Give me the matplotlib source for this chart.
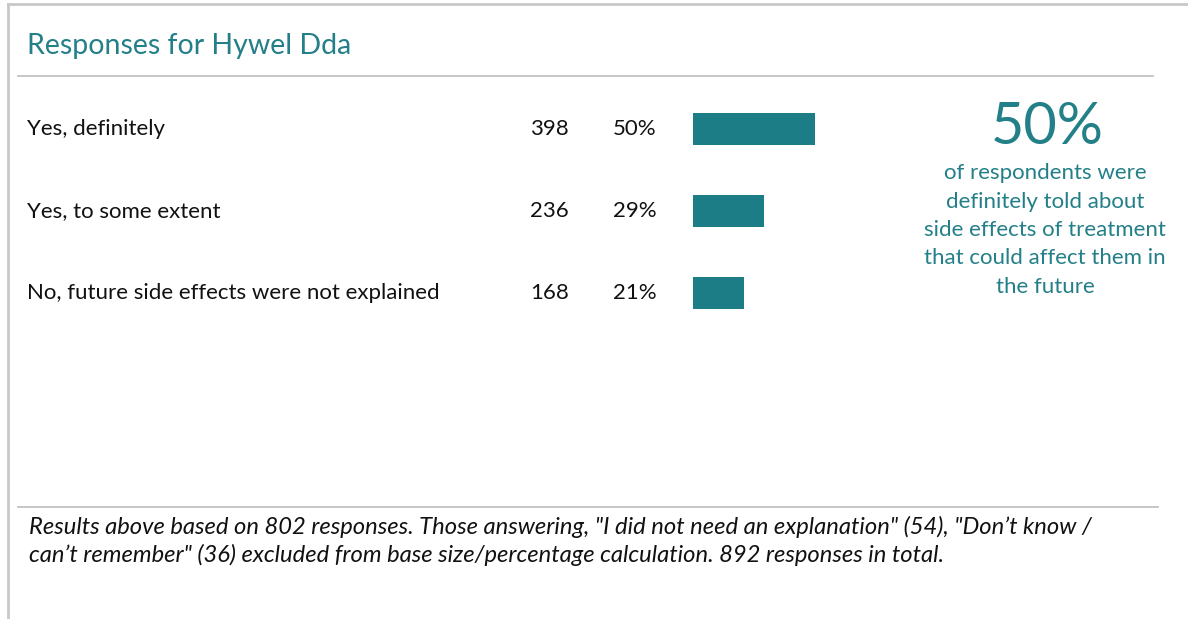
import matplotlib
matplotlib.use("Agg")
import matplotlib.pyplot as plt

plt.rcParams['font.family'] = ['Lato', 'DejaVu Sans']

# data
categories = ["Yes, definitely", "Yes, to some extent", "No, future side effects were not explained"]
counts = [398, 236, 168]
percents = [50, 29, 21]
title = "Responses for Hywel Dda"
headline = "50%"
headline_text = ("of respondents were\ndefinitely told about\nside effects of treatment\n"
                 "that could affect them in\nthe future")
footnote = ("Results above based on 802 responses. Those answering, \"I did not need an explanation\" (54), \"Don\u2019t know /\n"
            "can\u2019t remember\" (36) excluded from base size/percentage calculation. 892 responses in total.")

teal = "#237f88"
bar_col = "#1d7d86"
W, H = 1188, 619

fig = plt.figure(figsize=(W / 100, H / 100), dpi=100)
bg = fig.add_axes([0, 0, 1, 1])
bg.set_xlim(0, W)
bg.set_ylim(H, 0)
bg.axis("off")

# frame lines
bg.plot([8, W], [4, 4], color="#c8c8c8", lw=2)
bg.plot([8, 8], [4, H], color="#c8c8c8", lw=2)
bg.plot([18, 1153], [76, 76], color="#bcbcbc", lw=1.2)
bg.plot([18, 1158], [507, 507], color="#bcbcbc", lw=1.2)

bg.text(27, 46, title, color=teal, fontsize=20.5, va="center", ha="left")

row_y = [129, 211, 293]
for y, cat, n, p in zip(row_y, categories, counts, percents):
    bg.text(27, y, cat, fontsize=16, va="center", ha="left", color="#111111")
    bg.text(569, y, str(n), fontsize=16, va="center", ha="right", color="#111111")
    bg.text(613, y, f"{p}%", fontsize=16, va="center", ha="left", color="#111111")

# bars
x0, scale_w = 693, 244  # 244 px = 100%
top, bot = 88, 334
ax = fig.add_axes([x0 / W, 1 - bot / H, scale_w / W, (bot - top) / H])
ax.barh(range(len(percents)), percents, height=0.38, color=bar_col)
ax.set_xlim(0, 100)
ax.set_ylim(len(percents) - 0.5, -0.5)
ax.axis("off")

bg.text(1047, 127, headline, color=teal, fontsize=41.5, ha="center", va="center")
bg.text(1045, 230, headline_text, color=teal, fontsize=16, ha="center", va="center",
        linespacing=1.53)

bg.text(29, 541, footnote, fontsize=17.1, style="italic", ha="left", va="center",
        color="#111111", linespacing=1.33)

fig.savefig("out.png", dpi=100)
